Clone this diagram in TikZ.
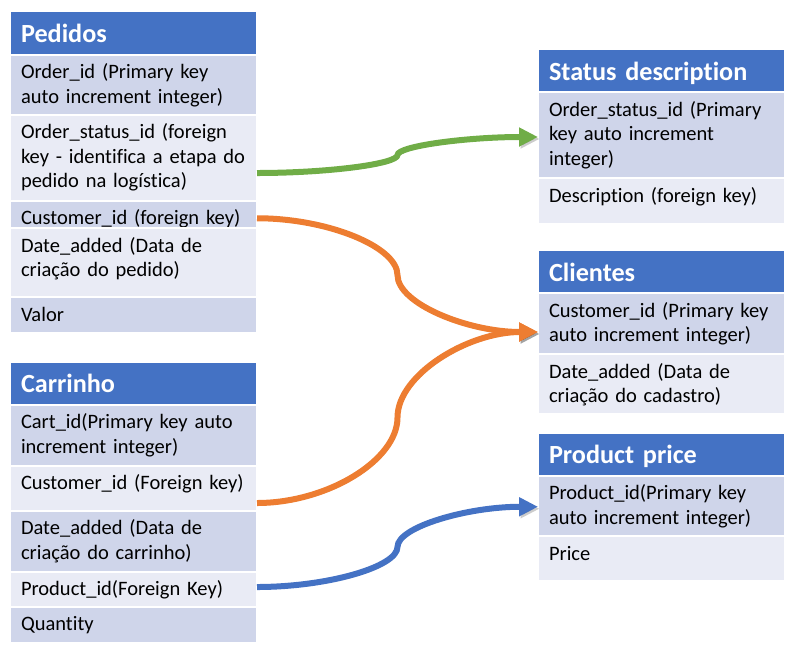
\documentclass[tikz,border=0pt]{standalone}
\usepackage{fontspec}
\setmainfont{Carlito}[Ligatures=NoCommon]
\usetikzlibrary{positioning,arrows.meta,calc}

\definecolor{headblue}{HTML}{4472C4}
\definecolor{banddark}{HTML}{CFD5EA}
\definecolor{bandlight}{HTML}{E9EBF5}
\definecolor{linkgreen}{HTML}{70AD47}
\definecolor{linkorange}{HTML}{ED7D31}
\definecolor{linkblue}{HTML}{4472C4}

\begin{document}
\begin{tikzpicture}[x=1pt, y=-1pt,
	cell/.style = {shape=rectangle, draw=white, line width=2pt, outer sep=0pt,
		text width=225pt, inner xsep=11pt, inner ysep=0pt, align=left},
	head/.style = {cell, fill=headblue, text=white, minimum height=#1,
		text height=19pt, text depth=0pt, font=\bfseries\fontsize{26.2}{30}\selectfont},
	dark/.style = {cell, fill=banddark, text height=24pt, text depth=#1,
		font=\fontsize{20.5}{24.5}\selectfont},
	light/.style = {dark=#1, fill=bandlight},
	link/.style = {line width=6pt, draw=#1, -{Triangle[length=19pt,width=18pt]},
		preaction={draw=black, opacity=.2, transform canvas={shift={(1.5pt,-2pt)}}},
		to path={let \p1=(\tikztostart), \p2=(\tikztotarget) in
			.. controls ({(3*\x1+\x2)/4},\y1) and ({(\x1+\x2)/2},{(3*\y1+\y2)/4})
			.. ({(\x1+\x2)/2},{(\y1+\y2)/2})
			.. controls ({(\x1+\x2)/2},{(\y1+3*\y2)/4}) and ({(\x1+3*\x2)/4},\y2)
			.. (\tikztotarget)}}]

	\useasboundingbox (0,0) rectangle (799,654);

	% Pedidos
	\node[head=43.5pt, anchor=north west] (ped) at (10,11) {Pedidos};
	\node[dark=36pt, below=0pt of ped] (ped1) {Order\_id (Primary key\\auto increment integer)};
	\node[light=62pt, below=0pt of ped1] (ped2) {Order\_status\_id (foreign\\key - identifica a etapa do\\pedido na logística)};
	\node[dark=3.5pt, below=0pt of ped2] (ped3) {Customer\_id (foreign key)};
	\node[light=45pt, below=0pt of ped3] (ped4) {Date\_added (Data de\\criação do pedido)};
	\node[dark=12pt, below=0pt of ped4] (ped5) {Valor};

	% Carrinho
	\node[head=42.5pt, anchor=north west] (car) at (10,362) {Carrinho};
	\node[dark=37pt, below=0pt of car] (car1) {Cart\_id(Primary key auto\\increment integer)};
	\node[light=21pt, below=0pt of car1] (car2) {Customer\_id (Foreign key)};
	\node[dark=37pt, below=0pt of car2] (car3) {Date\_added (Data de\\criação do carrinho)};
	\node[light=11pt, below=0pt of car3] (car4) {Product\_id(Foreign Key)};
	\node[dark=12.5pt, below=0pt of car4] (car5) {Quantity};

	% Status description
	\node[head=43pt, anchor=north west] (st) at (538,49) {Status description};
	\node[dark=62pt, below=0pt of st] (st1) {Order\_status\_id (Primary\\key auto increment\\integer)};
	\node[light=22pt, below=0pt of st1] (st2) {Description (foreign key)};

	% Clientes
	\node[head=43pt, anchor=north west] (cli) at (538,250) {Clientes};
	\node[dark=37pt, below=0pt of cli] (cli1) {Customer\_id (Primary key\\auto increment integer)};
	\node[light=36pt, below=0pt of cli1] (cli2) {Date\_added (Data de\\criação do cadastro)};

	% Product price
	\node[head=42.5pt, anchor=north west] (pp) at (538,433) {Product price};
	\node[dark=36.5pt, below=0pt of pp] (pp1) {Product\_id(Primary key\\auto increment integer)};
	\node[light=21pt, below=0pt of pp1] (pp2) {Price};

	% ligacoes
	\draw[link=linkgreen] ([yshift=-15.5pt]ped2.east) to ([yshift=-2pt]st1.west);
	\draw[link=linkorange] ([yshift=-4pt]ped3.east) to ([yshift=-8.5pt]cli1.west);
	\draw[link=linkorange] ([yshift=-15pt]car2.east) to ([yshift=-8.5pt]cli1.west);
	\draw[link=linkblue] ([yshift=2pt]car4.east) to ([yshift=-1pt]pp1.west);
\end{tikzpicture}
\end{document}
